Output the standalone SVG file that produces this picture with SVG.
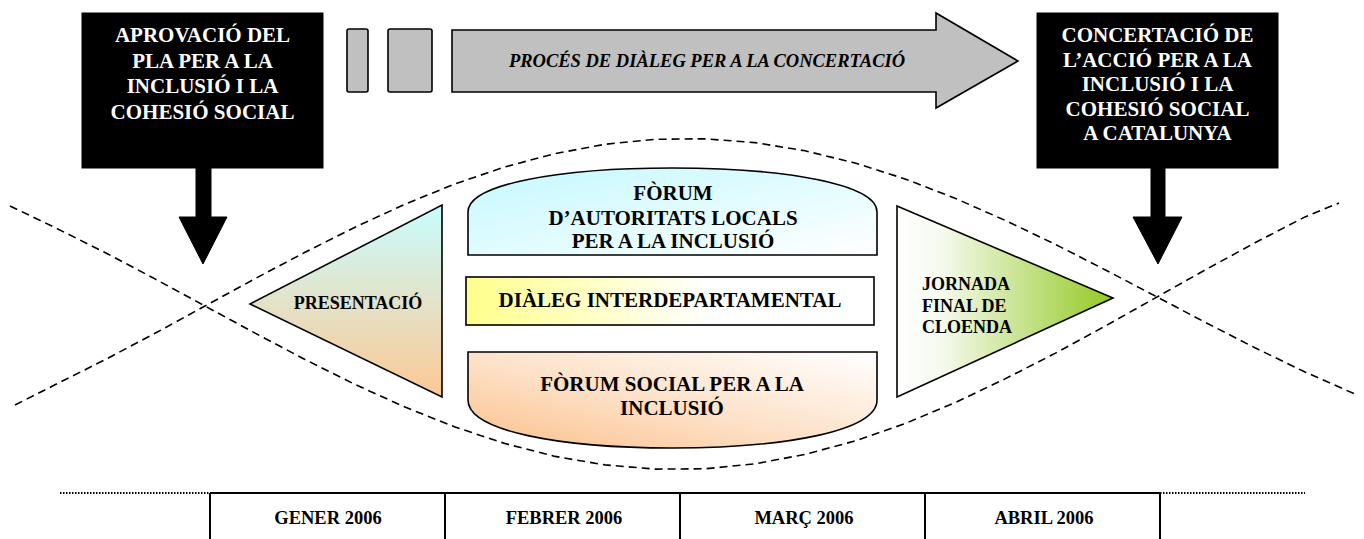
<svg xmlns="http://www.w3.org/2000/svg" width="1364" height="539" viewBox="0 0 1364 539">
<style>
text{font-family:"Liberation Serif","Times New Roman",serif;font-weight:bold}
.w{fill:#fff;font-size:21px;text-anchor:middle}
.b{fill:#000;font-size:21px;text-anchor:middle}
.s{fill:#000;font-size:18px}
.m{fill:#000;font-size:18.5px;text-anchor:middle}
.blk{fill:#000;stroke:#000;stroke-width:1}
.ol{stroke:#000;stroke-width:1.6;stroke-linejoin:miter}
.dash{fill:none;stroke:#000;stroke-width:1.6;stroke-dasharray:8 5}
.tl{stroke:#000;stroke-width:2;fill:none}
.dot{stroke:#000;stroke-width:2;stroke-dasharray:1.5 1.5;fill:none}
</style>
<defs>
<linearGradient id="gPres" x1="0" y1="0" x2="0" y2="1">
<stop offset="0" stop-color="#c8fdff"/><stop offset="1" stop-color="#fdc894"/>
</linearGradient>
<linearGradient id="gTop" x1="0" y1="0" x2="1" y2="1">
<stop offset="0" stop-color="#c4f8ff"/><stop offset="0.55" stop-color="#e4fcff"/><stop offset="1" stop-color="#ffffff"/>
</linearGradient>
<linearGradient id="gDia" x1="0" y1="0" x2="1" y2="0">
<stop offset="0" stop-color="#ffff8c"/><stop offset="0.6" stop-color="#ffffff"/><stop offset="1" stop-color="#ffffff"/>
</linearGradient>
<linearGradient id="gBot" x1="0" y1="1" x2="1" y2="0">
<stop offset="0" stop-color="#fbc08a"/><stop offset="0.45" stop-color="#fde0c6"/><stop offset="1" stop-color="#ffffff"/>
</linearGradient>
<linearGradient id="gJor" x1="0" y1="0" x2="1" y2="0">
<stop offset="0" stop-color="#ffffff"/><stop offset="0.2" stop-color="#f6faef"/><stop offset="1" stop-color="#93c923"/>
</linearGradient>
</defs>

<g id="connectors">
<path class="dash" d="M15,405 L55,384.8 L105,359.7 L155,333.3 L205,306 L255,278.7 L305,252.3 L355,227.2 L405,204.2 L455,183.9 L505,166.9 L555,153.6 L605,144.3 L655,139.3 L705,138.8 L755,142.6 L805,150.8 L855,163 L905,178.9 L955,198.2 L1005,220.3 L1055,244.2 L1105,269.7 L1155,295.9 L1205,322.2 L1255,347.8 L1305,372 L1357,395"/>
<path class="dash" d="M10,206 L55,227.6 L105,252.5 L155,278.9 L205,306 L255,333.1 L305,359.5 L355,384.4 L405,407.1 L455,427 L505,443.6 L555,456.4 L605,464.9 L655,469.1 L705,468.8 L755,463.8 L805,454.4 L855,441 L905,423.6 L955,402.7 L1005,378.9 L1055,353.4 L1105,326.2 L1155,298.1 L1205,270 L1255,242.8 L1305,216.9 L1339,203"/>
<path class="blk" d="M196,168 H211 V217 H227 L203,264 L179,217 H196 Z"/>
<path class="blk" d="M1151,168 H1165 V217 H1182 L1158,264 L1133,217 H1151 Z"/>
</g>

<g id="timeline">
<path class="dot" d="M60,493 H210"/>
<path class="dot" d="M1160,493 H1305"/>
<path class="tl" d="M210,493 H1160 M210,493 V539 M445,493 V539 M680,493 V539 M925,493 V539 M1160,493 V539"/>
<text class="m" x="328" y="524">GENER 2006</text>
<text class="m" x="564" y="524">FEBRER 2006</text>
<text class="m" x="804" y="524">MARÇ 2006</text>
<text class="m" x="1044" y="524">ABRIL 2006</text>
</g>

<g id="aprovacio">
<rect class="blk" x="82" y="13" width="241" height="155"/>
<text class="w" x="202.5" y="42">APROVACIÓ DEL</text>
<text class="w" x="202.5" y="67.5">PLA PER A LA</text>
<text class="w" x="202.5" y="93">INCLUSIÓ I LA</text>
<text class="w" x="202.5" y="118.5">COHESIÓ SOCIAL</text>
</g>

<g id="proces">
<rect class="ol" x="347" y="29" width="21" height="63" rx="2" fill="#c0c0c0"/>
<rect class="ol" x="388" y="29" width="44" height="63" rx="2" fill="#c0c0c0"/>
<path class="ol" fill="#c0c0c0" d="M452,30 H936 V13 L1018,61 L936,108 V92 H452 Z"/>
<text x="707" y="67" font-size="18.5" font-style="italic" text-anchor="middle">PROCÉS DE DIÀLEG PER A LA CONCERTACIÓ</text>
</g>

<g id="concertacio">
<rect class="blk" x="1037" y="13" width="241" height="155"/>
<text class="w" x="1157.5" y="42">CONCERTACIÓ DE</text>
<text class="w" x="1157.5" y="66.5">L’ACCIÓ PER A LA</text>
<text class="w" x="1157.5" y="91">INCLUSIÓ I LA</text>
<text class="w" x="1157.5" y="115.5">COHESIÓ SOCIAL</text>
<text class="w" x="1157.5" y="140">A CATALUNYA</text>
</g>

<g id="presentacio">
<path class="ol" fill="url(#gPres)" d="M250,304 L442,205 L442,397 Z"/>
<text class="s" x="358" y="309" text-anchor="middle">PRESENTACIÓ</text>
</g>

<g id="forum-autoritats">
<path class="ol" fill="url(#gTop)" d="M468,255 V212 C468,184 560,168 672,168 C785,168 877,184 877,212 V255 Z"/>
<text class="b" x="673" y="200">FÒRUM</text>
<text class="b" x="673" y="224.5">D’AUTORITATS LOCALS</text>
<text class="b" x="673" y="248">PER A LA INCLUSIÓ</text>
</g>

<g id="dialeg">
<rect class="ol" x="466" y="277" width="408" height="48" fill="url(#gDia)"/>
<text class="b" x="670" y="307">DIÀLEG INTERDEPARTAMENTAL</text>
</g>

<g id="forum-social">
<path class="ol" fill="url(#gBot)" d="M468,352 H877 V400 C877,431 785,448 672,448 C560,448 468,431 468,400 Z"/>
<text class="b" x="672" y="391">FÒRUM SOCIAL PER A LA</text>
<text class="b" x="672" y="415">INCLUSIÓ</text>
</g>

<g id="jornada">
<path class="ol" fill="url(#gJor)" d="M897,206 L1113,298 L897,397 Z"/>
<text class="s" x="922" y="290">JORNADA</text>
<text class="s" x="922" y="312">FINAL DE</text>
<text class="s" x="922" y="333">CLOENDA</text>
</g>
</svg>
